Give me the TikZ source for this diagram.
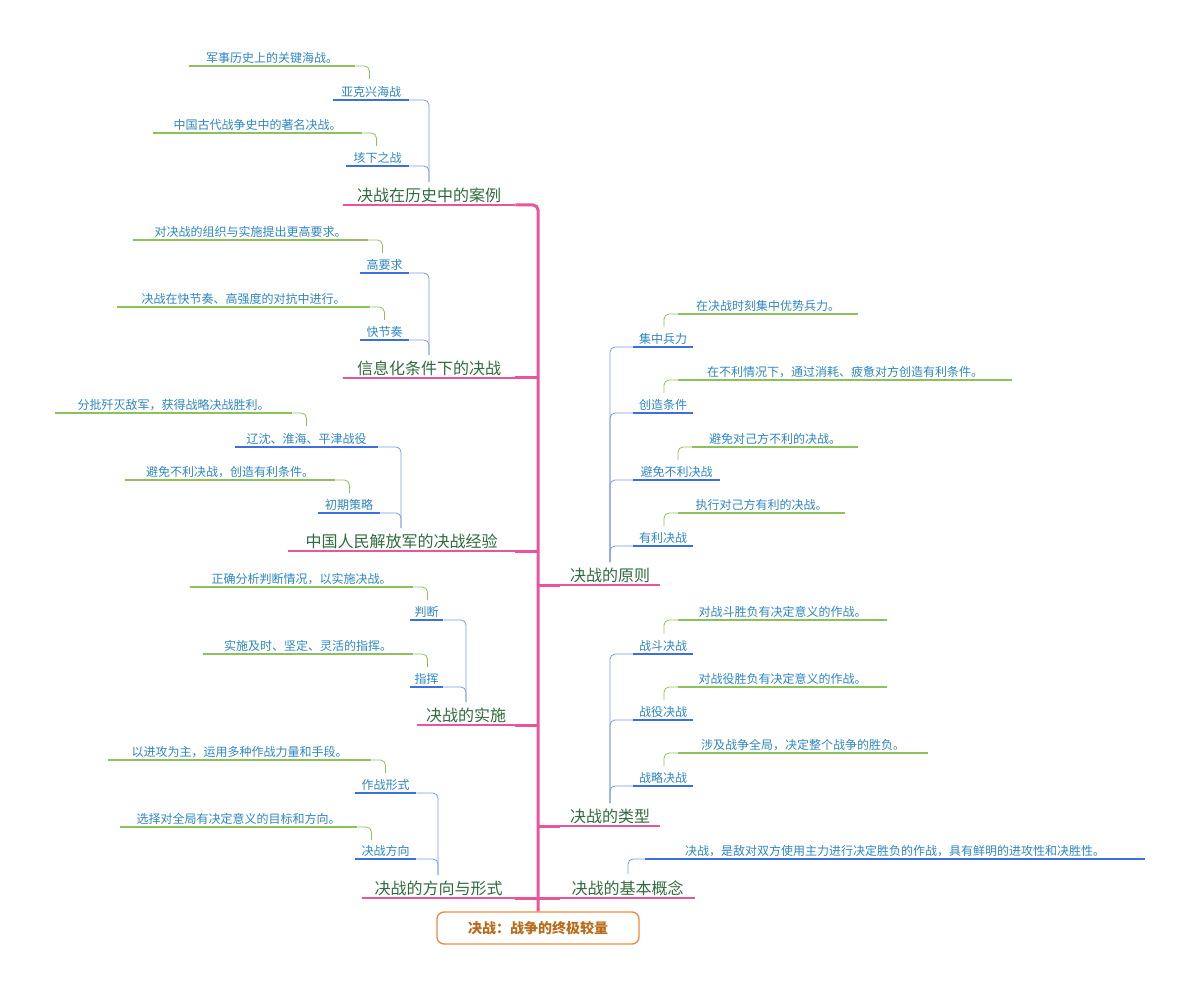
\documentclass[tikz,border=0pt]{standalone}
\usepackage{fontspec}
\setmainfont{Noto Sans CJK SC}
\usetikzlibrary{calc}
\definecolor{pk}{HTML}{E8559A}
\definecolor{bl}{HTML}{3D6FE0}
\definecolor{gr}{HTML}{8DC15A}
\definecolor{tg}{HTML}{2F6B3C}
\definecolor{tb}{HTML}{2E86C1}
\definecolor{org}{HTML}{EE8A3C}
\newcommand{\nd}[6]{\node[#5,anchor=south west,minimum width=#3pt-#2pt,append after command={(\tikzlastnode.south west) edge[#5line] (\tikzlastnode.south east)}] (#1) at (#2,#4) {#6};}
\begin{document}
\begin{tikzpicture}[x=1pt,y=-1pt,
 L1/.style={inner xsep=3pt,inner ysep=2pt,align=left,text=tg,font=\fontsize{16}{18}\selectfont},
 L1line/.style={draw=pk,line width=1.3pt},
 L2/.style={inner xsep=3pt,inner ysep=2pt,align=left,text=tb,font=\fontsize{12}{14}\selectfont},
 L2line/.style={draw=bl,line width=1.3pt},
 L3/.style={inner xsep=3pt,inner ysep=2pt,align=left,text=tb,font=\fontsize{12}{14}\selectfont},
 L3line/.style={draw=gr,line width=1.3pt},
 L3b/.style={L3},
 L3bline/.style={draw=bl,line width=1.3pt},
 trunk/.style={draw=pk,line width=3pt},
 bc/.style={draw=bl!70,line width=0.8pt,rounded corners=5pt},
 gc/.style={draw=gr,line width=0.8pt,rounded corners=5pt}]
\useasboundingbox (0,0) rectangle (1200,992);
% root
\node[draw=org,line width=1.3pt,rounded corners=7pt,minimum width=202pt,minimum height=32pt,text=orange!70!black!90,font=\fontsize{14}{16}\selectfont\bfseries] (root) at (538,928) {决战：战争的终极较量};
% level 1
\nd{a}{343}{515}{205}{L1}{决战在历史中的案例}
\nd{b}{343}{515}{378}{L1}{信息化条件下的决战}
\nd{c}{288}{515}{551}{L1}{中国人民解放军的决战经验}
\nd{d}{417}{515}{725}{L1}{决战的实施}
\nd{e}{362}{515}{898}{L1}{决战的方向与形式}
\nd{f}{560}{660}{585}{L1}{决战的原则}
\nd{g}{560}{660}{826}{L1}{决战的类型}
\nd{h}{560}{695}{898}{L1}{决战的基本概念}
\coordinate (top) at (538,215);
\draw[trunk,rounded corners=5pt] (a.south east) -- (538,205) -- (root.north);
\foreach \n in {b,c,d,e}{\draw[trunk] (\n.south east) -- (\n.south east -| root.north);}
\foreach \n in {f,g,h}{\draw[trunk] (\n.south west) -- (\n.south west -| root.north);}
% level 2 left
\nd{a1}{333}{409}{100}{L2}{亚克兴海战}
\nd{a2}{346}{409}{166}{L2}{垓下之战}
\draw[bc] (a1.south east) -| (429,182); \draw[bc] (a2.south east) -| (429,182);
\nd{b1}{360}{409}{273}{L2}{高要求}
\nd{b2}{360}{409}{340}{L2}{快节奏}
\draw[bc] (b1.south east) -| (429,355); \draw[bc] (b2.south east) -| (429,355);
\nd{c1}{235}{378}{447}{L2}{辽沈、淮海、平津战役}
\nd{c2}{318}{380}{513}{L2}{初期策略}
\draw[bc] (c1.south east) -| (401,528); \draw[bc] (c2.south east) -| (401,528);
\nd{d1}{410}{443}{620}{L2}{判断}
\nd{d2}{410}{443}{687}{L2}{指挥}
\draw[bc] (d1.south east) -| (466,702); \draw[bc] (d2.south east) -| (466,702);
\nd{e1}{355}{416}{793}{L2}{作战形式}
\nd{e2}{355}{416}{859}{L2}{决战方向}
\draw[bc] (e1.south east) -| (438,875); \draw[bc] (e2.south east) -| (438,875);
% level 2 right
\nd{f1}{633}{693}{347}{L2}{集中兵力}
\nd{f2}{633}{693}{413}{L2}{创造条件}
\nd{f3}{633}{720}{480}{L2}{避免不利决战}
\nd{f4}{633}{693}{546}{L2}{有利决战}
\foreach \n in {f1,f2,f3,f4}{\draw[bc] (\n.south west) -| (610,562);}
\nd{g1}{633}{693}{654}{L2}{战斗决战}
\nd{g2}{633}{693}{720}{L2}{战役决战}
\nd{g3}{633}{693}{786}{L2}{战略决战}
\foreach \n in {g1,g2,g3}{\draw[bc] (\n.south west) -| (610,803);}
% leaves left
\nd{a1l}{189}{355}{66}{L3}{军事历史上的关键海战。}
\nd{a2l}{153}{362}{133}{L3}{中国古代战争史中的著名决战。}
\nd{b1l}{133}{368}{240}{L3}{对决战的组织与实施提出更高要求。}
\nd{b2l}{117}{370}{307}{L3}{决战在快节奏、高强度的对抗中进行。}
\nd{c1l}{55}{292}{413}{L3}{分批歼灭敌军，获得战略决战胜利。}
\nd{c2l}{125}{335}{480}{L3}{避免不利决战，创造有利条件。}
\nd{d1l}{190}{413}{587}{L3}{正确分析判断情况，以实施决战。}
\nd{d2l}{203}{413}{654}{L3}{实施及时、坚定、灵活的指挥。}
\nd{e1l}{108}{371}{760}{L3}{以进攻为主，运用多种作战力量和手段。}
\nd{e2l}{120}{357}{827}{L3}{选择对全局有决定意义的目标和方向。}
\foreach \n in {a1l,a2l,b1l,b2l,c1l,c2l,d1l,d2l,e1l,e2l}{\draw[gc] (\n.south east) -| ($(\n.south east)+(14,13)$);}
% leaves right
\nd{f1l}{678}{858}{314}{L3}{在决战时刻集中优势兵力。}
\nd{f2l}{678}{1012}{380}{L3}{在不利情况下，通过消耗、疲惫对方创造有利条件。}
\nd{f3l}{692}{858}{447}{L3}{避免对己方不利的决战。}
\nd{f4l}{678}{845}{513}{L3}{执行对己方有利的决战。}
\nd{g1l}{678}{887}{620}{L3}{对战斗胜负有决定意义的作战。}
\nd{g2l}{678}{887}{687}{L3}{对战役胜负有决定意义的作战。}
\nd{g3l}{678}{928}{753}{L3}{涉及战争全局，决定整个战争的胜负。}
\foreach \n in {f1l,f2l,f3l,f4l,g1l,g2l,g3l}{\draw[gc] (\n.south west) -| ($(\n.south west)+(-14,13)$);}
\nd{hl}{645}{1145}{859}{L3b}{决战，是敌对双方使用主力进行决定胜负的作战，具有鲜明的进攻性和决胜性。}
\draw[bc] (hl.south west) -| ($(hl.south west)+(-17,15)$);
\end{tikzpicture}
\end{document}
